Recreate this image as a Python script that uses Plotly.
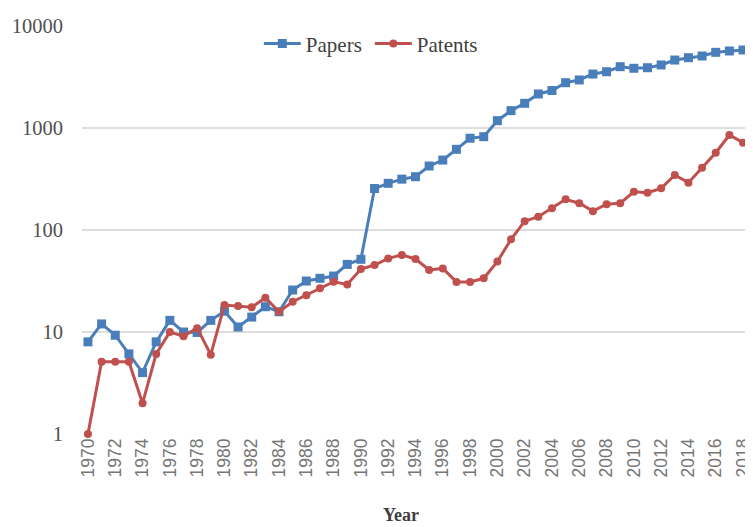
import plotly.graph_objects as go

years = list(range(1970, 2019))
papers = [8, 12, 9.3, 6.1, 4.0, 8.0, 13, 10, 9.9, 13, 16, 11.2, 14, 17.7, 15.8,
          25.8, 31.6, 33.6, 35.4, 46, 51.6, 255, 287, 315, 333, 424, 485, 618, 794, 822,
          1180, 1480, 1746, 2155, 2330, 2780, 2960, 3380, 3560, 3990, 3850, 3900, 4150,
          4640, 4890, 5080, 5520, 5690, 5820]
patents = [1, 5.1, 5.1, 5.1, 2, 6.1, 10, 9.1, 10.9, 6, 18.4, 18, 17.5, 21.7, 15.8,
           19.8, 22.9, 26.8, 31.1, 29.3, 41.5, 45.4, 52.7, 57, 52, 40.5, 42, 31, 31, 33.6,
           49, 81, 122, 135, 163, 200, 183, 153, 179, 183, 237, 232, 256, 346, 291, 408,
           573, 853, 718]
x_ticks = list(range(1970, 2019, 2))
y_ticks = [1, 10, 100, 1000, 10000]
y_labels = ["1", "10", "100", "1000", "10000"]

BLUE = "#4A7EBB"
RED = "#C0504D"

fig = go.Figure()
fig.add_trace(go.Scatter(
    x=years, y=papers, name="Papers", mode="lines+markers",
    line=dict(color=BLUE, width=3),
    marker=dict(symbol="square", size=9, color=BLUE),
    cliponaxis=False,
))
fig.add_trace(go.Scatter(
    x=years, y=patents, name="Patents", mode="lines+markers",
    line=dict(color=RED, width=3),
    marker=dict(symbol="circle", size=8, color=RED),
    cliponaxis=False,
))

# the page body has an 8px margin, so the figure is drawn 8px smaller
fig.update_layout(
    width=745, height=519,
    margin=dict(l=74, r=0, t=18, b=93),
    paper_bgcolor="white", plot_bgcolor="white",
    showlegend=True,
    legend=dict(
        orientation="h", x=0.2655, y=0.956, xanchor="left", yanchor="middle",
        font=dict(family="Liberation Serif", size=21, color="#404040"),
        bgcolor="rgba(0,0,0,0)", entrywidth=59, entrywidthmode="pixels",
        itemwidth=37,
    ),
    xaxis=dict(
        range=[1969.564, 2018.364],
        tickmode="array", tickvals=x_ticks, ticktext=[str(v) for v in x_ticks],
        tickangle=-90, showgrid=False, zeroline=False, showline=False,
        tickfont=dict(family="Liberation Sans", size=17.5, color="#767676"),
        ticks="", ticklabeloverflow="allow",
    ),
    yaxis=dict(
        type="log", range=[0, 4],
        tickmode="array", tickvals=y_ticks, ticktext=y_labels,
        showgrid=True, gridcolor="#DDDDDD", gridwidth=1.5,
        zeroline=False, showline=False, ticks="",
        tickfont=dict(family="Liberation Serif", size=20.5, color="#505050"),
        ticklabelstandoff=18,
    ),
    annotations=[dict(
        text="<b>Year</b>", xref="paper", yref="paper", x=(395 - 74) / 671, y=-0.199,
        xanchor="center", yanchor="middle", showarrow=False,
        font=dict(family="Liberation Serif", size=18, color="#404040"),
    )],
)

fig.write_html("out.html")
